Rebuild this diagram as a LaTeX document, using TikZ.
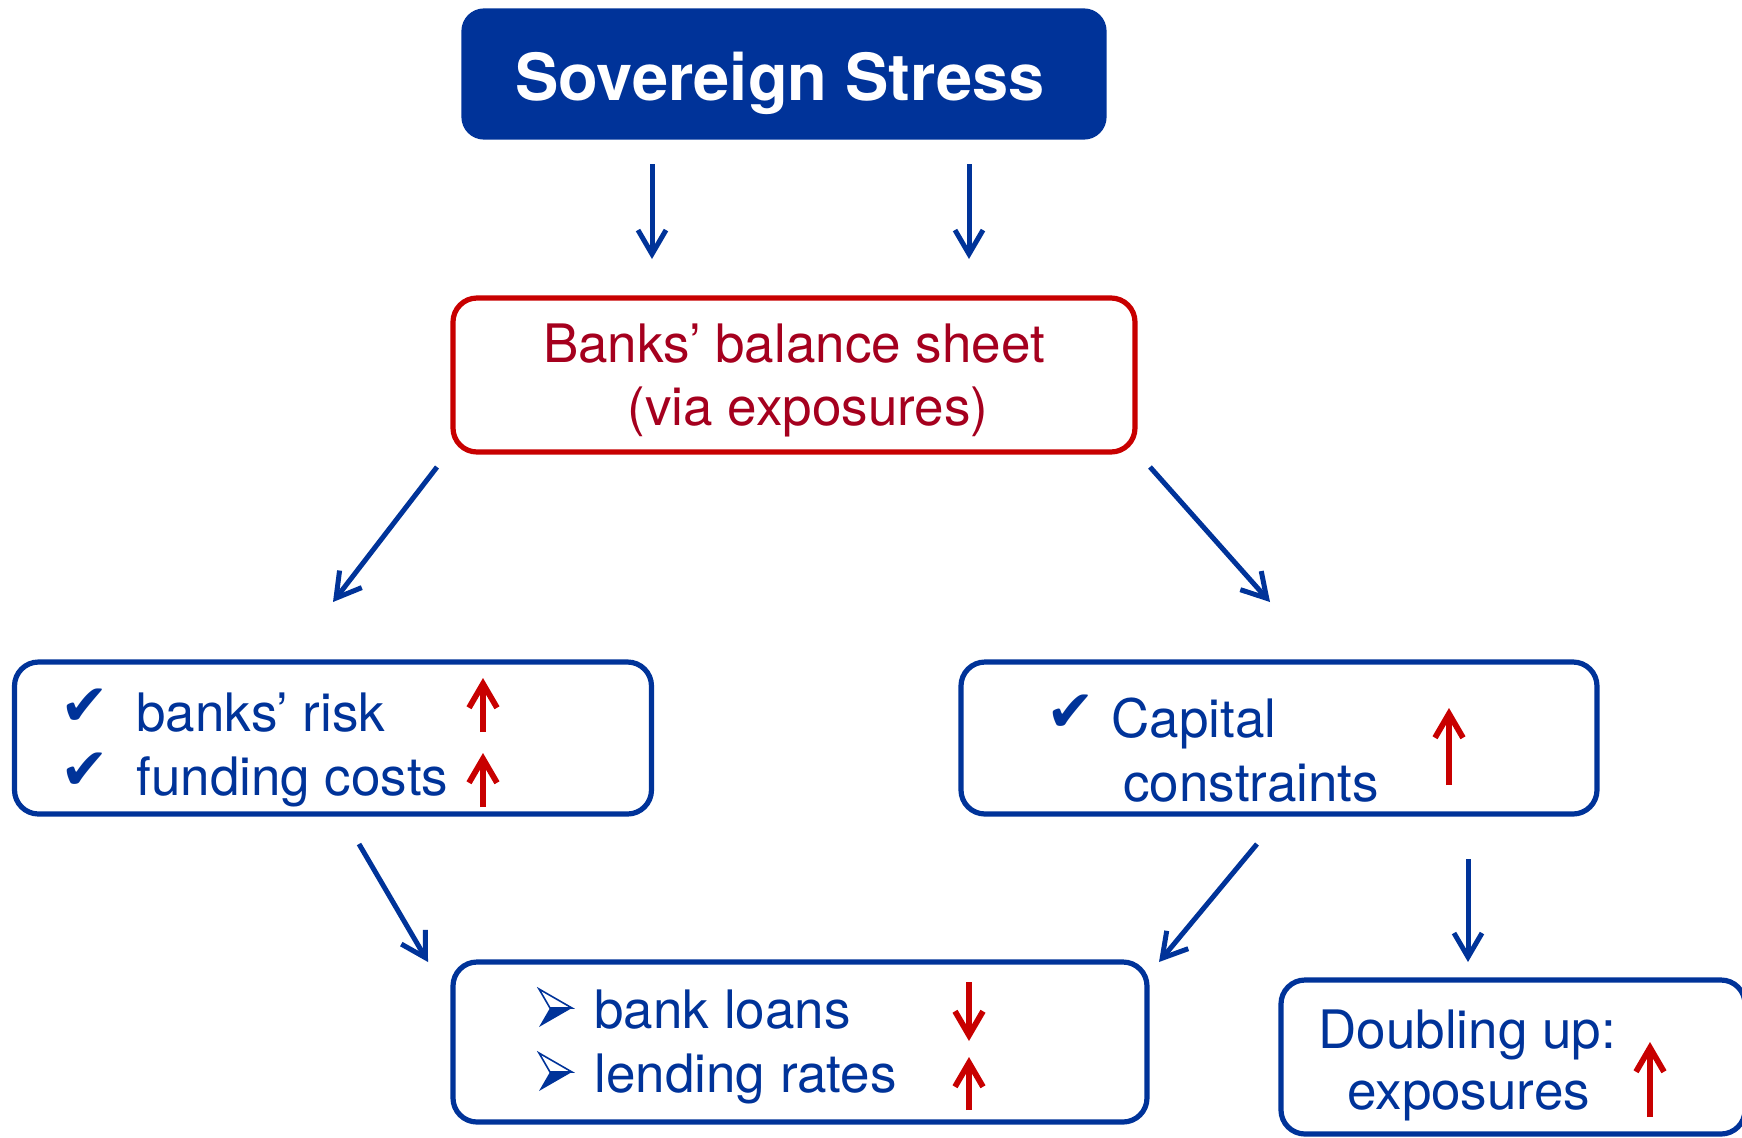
\documentclass[tikz,border=0pt]{standalone}
\usepackage{fontspec}
\setmainfont{TeX Gyre Heros}
\newfontfamily\dingfont{DejaVu Sans}
\usepackage{tikz}
\usetikzlibrary{arrows.meta}

\definecolor{ecbblue}{HTML}{003399}
\definecolor{ecbred}{HTML}{C80000}
\definecolor{sheetred}{HTML}{A5001E}

\tikzset{
  box/.style={draw=ecbblue, line width=2.6pt, rounded corners=12pt, inner sep=0pt, outer sep=0pt},
  line/.style={font=\fontsize{26.5}{31.5}\selectfont, text=ecbblue, anchor=base west, inner sep=0pt},
  tick/.style={font=\dingfont\fontsize{29}{34}\selectfont, text=ecbblue, inner sep=0pt},
  flow/.style={->, draw=ecbblue, line width=2.5pt},
  rise/.style={->, draw=ecbred, line width=2.9pt},
  bullet/.style={ecbblue, line width=0.8pt, line join=miter}
}

\begin{document}
\begin{tikzpicture}[x=0.5pt, y=-0.5pt, >={Straight Barb[length=12pt,width=14pt]}]
        \useasboundingbox (0,0) rectangle (1742,1137);

        % boxes
        \node [box, fill=ecbblue, rounded corners=10pt, minimum width=320pt, minimum height=63pt] (stress) at (784,74) {};
        \node [box, draw=ecbred, minimum width=341pt, minimum height=77pt] (sheet) at (794,375) {};
        \node [box, minimum width=318.5pt, minimum height=76pt] (risk) at (333,738) {};
        \node [box, minimum width=318pt, minimum height=76pt] (capital) at (1279,738) {};
        \node [box, minimum width=347pt, minimum height=80pt] (loans) at (800,1042) {};
        \node [box, minimum width=232pt, minimum height=77pt] (doubling) at (1513,1057) {};

        % texts
        \node [font=\bfseries\fontsize{32.5}{39}\selectfont, text=white, inner sep=0pt, anchor=base] (stresstxt) at (780,100) {Sovereign Stress};
        \node [line, text=sheetred, anchor=base] (sheet1) at (794,362) {Banks' balance sheet};
        \node [line, text=sheetred, anchor=base] (sheet2) at (808,425) {(via exposures)};

        \node [tick] (chk1) at (85,707) {✔};
        \node [tick] (chk2) at (85,771) {✔};
        \node [line] (risk1) at (136,731) {banks' risk};
        \node [line] (risk2) at (136,795) {funding costs};

        \node [tick] (chk3) at (1071,713) {✔};
        \node [line] (cap1) at (1111,737) {Capital};
        \node [line] (cap2) at (1123,801) {constraints};

        \node [line] (loans1) at (594,1028) {bank loans};
        \node [line] (loans2) at (594,1092) {lending rates};

        \node [line] (dbl1) at (1318,1048) {Doubling up:};
        \node [line] (dbl2) at (1347,1109) {exposures};

        % arrowhead bullets
        \foreach \n/\y in {bul1/1008, bul2/1072} {
            \coordinate (\n) at (539,\y);
            \fill [bullet] (\n) ++(0,19) -- ++(11,-19) -- ++(22,0) -- cycle;
            \draw [bullet] (\n) ++(0,-19) -- ++(33,19) -- ++(-22,0) -- cycle;
        }

        % red up / down marks
        \foreach \n/\x/\ya/\yb in {r1/483/732/678, r2/483/807/753, r3/1449/785/708,
                                   r4/969/982/1041, r5/969/1110/1057, r6/1650/1117/1042} {
            \coordinate (\n a) at (\x,\ya);
            \coordinate (\n b) at (\x,\yb);
            \draw [rise] (\n a) -- (\n b);
        }

        % connectors
        \draw [flow] ([shift={(-132,27)}]stress.south) -- ([shift={(-142,-39)}]sheet.north);
        \draw [flow] ([shift={(185,27)}]stress.south) -- ([shift={(175,-39)}]sheet.north);
        \draw [flow] ([shift={(-357,15)}]sheet.south) -- ([shift={(0,-60)}]risk.north);
        \draw [flow] ([shift={(356,15)}]sheet.south) -- ([shift={(-9,-60)}]capital.north);
        \draw [flow] ([shift={(26,30)}]risk.south) -- ([shift={(-372,0)}]loans.north);
        \draw [flow] ([shift={(-22,30)}]capital.south) -- ([shift={(359,0)}]loans.north);
        \draw [flow] ([shift={(189,45)}]capital.south) -- ([shift={(-45,-18)}]doubling.north);
\end{tikzpicture}
\end{document}
